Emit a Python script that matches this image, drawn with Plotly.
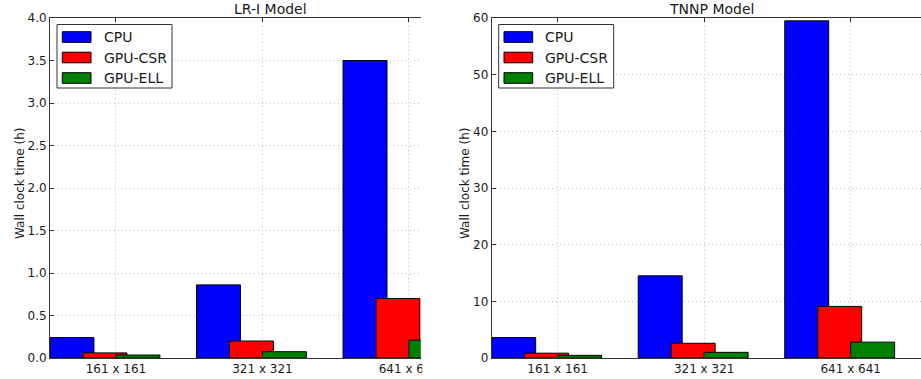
import plotly.graph_objects as go

# Grid resolutions on the x axis
grid_sizes = ["161 x 161", "321 x 321", "641 x 641"]

# Solver variants
series_names = ["CPU", "GPU-CSR", "GPU-ELL"]
series_colors = ["#0000ff", "#ff0000", "#008000"]

# Wall clock time (h), LR-I model
lri_cpu = [0.24, 0.86, 3.50]
lri_csr = [0.06, 0.20, 0.70]
lri_ell = [0.035, 0.074, 0.21]

# Wall clock time (h), TNNP model
tnnp_cpu = [3.6, 14.5, 59.5]
tnnp_csr = [0.85, 2.6, 9.1]
tnnp_ell = [0.47, 1.0, 2.8]

lri_ticks = [0.0, 0.5, 1.0, 1.5, 2.0, 2.5, 3.0, 3.5, 4.0]
tnnp_ticks = [0, 10, 20, 30, 40, 50, 60]

W, H = 921, 379
M_T, M_B = 18, 21
PLOT_H = H - M_T - M_B

FONT = "DejaVu Sans"
TXT = "#1a1a1a"
AXC = "#333333"
GRIDC = "#bdbdbd"

BAR_W = 0.3
STEP = 0.225


def px(x):
    return x / W


def py(y):
    return (H - M_B - y) / PLOT_H


positions = list(range(len(grid_sizes)))

fig = go.Figure()

panels = [
    ("x", "y", [lri_cpu, lri_csr, lri_ell]),
    ("x2", "y2", [tnnp_cpu, tnnp_csr, tnnp_ell]),
]
for xa, ya, data in panels:
    for i, (name, color, vals) in enumerate(zip(series_names, series_colors, data)):
        fig.add_trace(go.Bar(
            x=positions, y=vals, name=name,
            xaxis=xa, yaxis=ya,
            width=BAR_W, offset=-2 * STEP + i * STEP,
            marker=dict(color=color, line=dict(color="#000000", width=1)),
            showlegend=False,
        ))

left_x0, left_x1 = 50.0, 420.7
right_x0, right_x1 = 491.7, 921.0
unit_px = (left_x1 - left_x0) / 2.53

common_x = dict(
    tickmode="array", tickvals=positions, ticktext=grid_sizes,
    showline=True, linecolor=AXC, linewidth=1, mirror="ticks",
    ticks="inside", ticklen=4, tickcolor=AXC,
    showgrid=True, gridcolor=GRIDC, griddash="1px,3px", gridwidth=1,
    zeroline=False, tickfont=dict(family=FONT, size=12, color=TXT),
    automargin=False,
)
common_y = dict(
    showline=True, linecolor=AXC, linewidth=1,
    ticks="inside", ticklen=4, tickcolor=AXC,
    showgrid=True, gridcolor=GRIDC, griddash="1px,3px", gridwidth=1,
    zeroline=False, tickfont=dict(family=FONT, size=12, color=TXT),
    domain=[0, 1], automargin=False,
)

fig.update_layout(
    width=W, height=H, autosize=False,
    margin=dict(l=0, r=0, t=M_T, b=M_B, pad=0, autoexpand=False),
    paper_bgcolor="white", plot_bgcolor="white",
    barmode="overlay",
    font=dict(family=FONT, color=TXT),
    xaxis=dict(common_x, domain=[px(left_x0), px(left_x1)],
               range=[-0.45, 2.08], anchor="y"),
    yaxis=dict(common_y, range=[0, 4], tickvals=lri_ticks,
               tickformat=".1f", anchor="x"),
    xaxis2=dict(common_x, domain=[px(right_x0), 1.0],
                range=[-0.45, -0.45 + (right_x1 - right_x0) / unit_px],
                anchor="y2"),
    yaxis2=dict(common_y, range=[0, 60], tickvals=tnnp_ticks, anchor="x2"),
    showlegend=False,
)

shapes = []
annotations = []

# Mask the overflow of the left panel's last tick label
shapes.append(dict(type="rect", xref="paper", yref="paper", layer="above",
                   x0=px(left_x1 + 1.5), x1=px(462), y0=py(H), y1=py(359),
                   fillcolor="white", line=dict(width=0)))

# Panel titles and y-axis labels
for title, cx, ylab_x in [("LR-I Model", 270.7, 20), ("TNNP Model", 711.7, 465)]:
    annotations.append(dict(text=title, xref="paper", yref="paper",
                            x=px(cx), y=py(9), showarrow=False,
                            xanchor="center", yanchor="middle",
                            font=dict(family=FONT, size=14, color=TXT)))
    annotations.append(dict(text="Wall clock time (h)", xref="paper", yref="paper",
                            x=px(ylab_x), y=py(184), showarrow=False, textangle=-90,
                            xanchor="center", yanchor="middle",
                            font=dict(family=FONT, size=12, color=TXT)))

# Legend boxes drawn in the upper-left corner of each panel
row_y = [37, 57.5, 78]
for ax0 in (left_x0, right_x0):
    shapes.append(dict(type="rect", xref="paper", yref="paper", layer="above",
                       x0=px(ax0 + 7), x1=px(ax0 + 122), y0=py(88), y1=py(24.5),
                       fillcolor="white", line=dict(color=AXC, width=1)))
    for name, color, ry in zip(series_names, series_colors, row_y):
        shapes.append(dict(type="rect", xref="paper", yref="paper", layer="above",
                           x0=px(ax0 + 12.3), x1=px(ax0 + 41), y0=py(ry + 5.3), y1=py(ry - 5.3),
                           fillcolor=color, line=dict(color="#000000", width=1)))
        annotations.append(dict(text=name, xref="paper", yref="paper",
                                x=px(ax0 + 51.5), y=py(ry), showarrow=False,
                                xanchor="left", yanchor="middle",
                                font=dict(family=FONT, size=14, color=TXT)))

fig.update_layout(shapes=shapes, annotations=annotations)

fig.write_html("out.html", config={"responsive": False})
